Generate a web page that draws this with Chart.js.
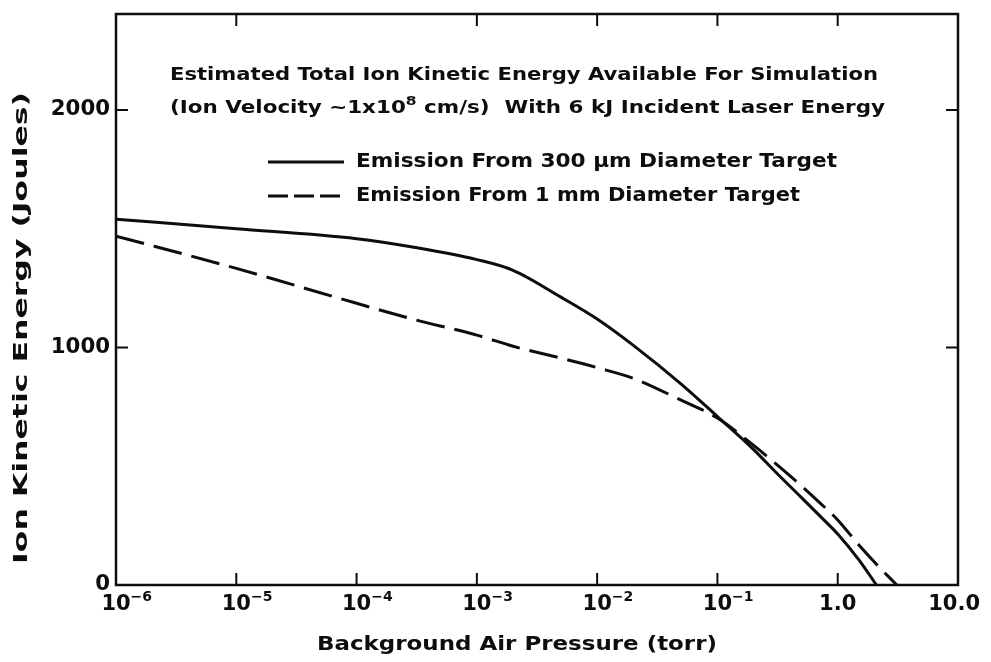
<!DOCTYPE html>
<html>
<head>
<meta charset="utf-8">
<script src="https://cdn.jsdelivr.net/npm/chart.js@4.4.0/dist/chart.umd.min.js"></script>
<style>
  html, body { margin: 0; padding: 0; background: #fff; }
</style>
</head>
<body>
<canvas id="ionChart" width="991" height="662"></canvas>
<script>
// ion kinetic energy (J) vs background air pressure (torr)
const pressure300 = [1e-6, 1e-5, 1e-4, 3e-4, 1e-3, 2e-3, 5e-3, 1e-2, 2e-2, 5e-2, 0.1, 0.2, 0.3, 0.5, 0.7, 1.0, 1.5, 2.1];
const energy300   = [1540, 1500, 1458, 1422, 1370, 1325, 1212, 1120, 1009, 846, 709, 570, 479, 368, 294, 215, 106, 0];

const pressure1mm = [1e-6, 1e-5, 1e-4, 3e-4, 1e-3, 2e-3, 5e-3, 1e-2, 2e-2, 5e-2, 0.1, 0.2, 0.3, 0.5, 0.7, 1.0, 1.5, 2.1, 3.1];
const energy1mm   = [1469, 1333, 1186, 1118, 1052, 1005, 955, 915, 870, 778, 703, 588, 514, 417, 349, 274, 168, 87, 0];

// axis ticks and their labels ([base, superscript])
const xTicks = [1e-6, 1e-5, 1e-4, 1e-3, 1e-2, 1e-1, 1, 10];
const xTickLabels = [['10', '\u22126'], ['10', '\u22125'], ['10', '\u22124'], ['10', '\u22123'],
                     ['10', '\u22122'], ['10', '\u22121'], ['1.0', ''], ['10.0', '']];
const xTopTicks = [1e-5, 1e-3, 1e-2, 1e-1, 1];
const yTicks = [0, 1000, 2000];
const yTickLabels = ['0', '1000', '2000'];

const FONT = '"DejaVu Sans", sans-serif';
const INK = '#0d0d0d';

// draw text squeezed/stretched to a given width
function fitText(ctx, text, x, y, w, size, align) {
  ctx.save();
  ctx.font = 'bold ' + size + 'px ' + FONT;
  const s = w / ctx.measureText(text).width;
  ctx.translate(x, y);
  ctx.scale(s, 1);
  ctx.textAlign = align;
  ctx.textBaseline = 'middle';
  ctx.fillText(text, 0, 0);
  ctx.restore();
}

// text made of normal and superscript runs, fitted to width w, starting at x
function drawRuns(ctx, runs, x, y, w, size) {
  const supSize = Math.round(size * 0.72);
  let total = 0;
  runs.forEach(r => {
    ctx.font = 'bold ' + (r.sup ? supSize : size) + 'px ' + FONT;
    r.w = ctx.measureText(r.t).width;
    total += r.w;
  });
  ctx.save();
  ctx.translate(x, y);
  ctx.scale(w / total, 1);
  ctx.textAlign = 'left';
  ctx.textBaseline = 'middle';
  let cx = 0;
  runs.forEach(r => {
    ctx.font = 'bold ' + (r.sup ? supSize : size) + 'px ' + FONT;
    ctx.fillText(r.t, cx, r.sup ? -size * 0.38 : 0);
    cx += r.w;
  });
  ctx.restore();
}

const framePlugin = {
  id: 'frame',
  afterDatasetsDraw(chart) {
    const ctx = chart.ctx;
    const a = chart.chartArea;
    const xs = chart.scales.x, ys = chart.scales.y;
    const tick = 12;
    ctx.save();
    ctx.strokeStyle = INK;
    ctx.fillStyle = INK;
    ctx.lineCap = 'butt';

    // box
    ctx.lineWidth = 2.5;
    ctx.strokeRect(a.left, a.top, a.right - a.left, a.bottom - a.top);

    // inward tick marks
    ctx.lineWidth = 2;
    ctx.beginPath();
    xTicks.forEach(v => {
      const px = xs.getPixelForValue(v);
      if (px <= a.left + 1 || px >= a.right - 1) return;
      ctx.moveTo(px, a.bottom); ctx.lineTo(px, a.bottom - tick);
    });
    xTopTicks.forEach(v => {
      const px = xs.getPixelForValue(v);
      ctx.moveTo(px, a.top); ctx.lineTo(px, a.top + tick);
    });
    yTicks.forEach(v => {
      if (v === 0) return;
      const py = ys.getPixelForValue(v);
      ctx.moveTo(a.left, py); ctx.lineTo(a.left + tick, py);
      ctx.moveTo(a.right, py); ctx.lineTo(a.right - tick, py);
    });
    ctx.stroke();

    // y tick labels
    yTickLabels.forEach((lab, i) => {
      const py = ys.getPixelForValue(yTicks[i]);
      fitText(ctx, lab, a.left - 6, py, lab.length * 14.8, 21, 'right');
    });

    // x tick labels
    xTickLabels.forEach((lab, i) => {
      let px = xs.getPixelForValue(xTicks[i]);
      ctx.textBaseline = 'middle';
      ctx.font = 'bold 21px ' + FONT;
      const bw = ctx.measureText(lab[0]).width;
      if (px + bw / 2 > 980) px = 980 - bw / 2;
      ctx.textAlign = 'center';
      ctx.fillText(lab[0], px, 605);
      if (lab[1]) {
        ctx.font = 'bold 14px ' + FONT;
        ctx.textAlign = 'left';
        ctx.fillText(lab[1], px + bw / 2, 597);
      }
    });

    // axis titles
    fitText(ctx, 'Background Air Pressure (torr)', 517, 645, 400, 20, 'center');
    ctx.save();
    ctx.translate(22, 328);
    ctx.rotate(-Math.PI / 2);
    fitText(ctx, 'Ion Kinetic Energy (Joules)', 0, 0, 472, 20, 'center');
    ctx.restore();

    // caption inside the plot
    fitText(ctx, 'Estimated Total Ion Kinetic Energy Available For Simulation', 170, 75, 708, 18, 'left');
    drawRuns(ctx, [
      { t: '(Ion Velocity ~1x10' },
      { t: '8', sup: true },
      { t: ' cm/s)  With 6 kJ Incident Laser Energy' }
    ], 170, 108, 715, 18);

    // legend
    const items = [
      { ds: chart.data.datasets[0], y: 162, textW: 481 },
      { ds: chart.data.datasets[1], y: 196, textW: 444 }
    ];
    items.forEach(it => {
      ctx.save();
      ctx.lineWidth = 3;
      ctx.setLineDash(it.ds.borderDash ? [20, 6] : []);
      ctx.beginPath();
      ctx.moveTo(268, it.y); ctx.lineTo(344, it.y);
      ctx.stroke();
      ctx.restore();
      fitText(ctx, it.ds.label, 356, it.y, it.textW, 19, 'left');
    });
    ctx.restore();
  }
};

new Chart(document.getElementById('ionChart'), {
  type: 'line',
  data: {
    datasets: [
      {
        label: 'Emission From 300 \u03BCm Diameter Target',
        data: pressure300.map((p, i) => ({ x: p, y: energy300[i] })),
        borderColor: INK,
        borderWidth: 3,
        pointRadius: 0,
        cubicInterpolationMode: 'monotone'
      },
      {
        label: 'Emission From 1 mm Diameter Target',
        data: pressure1mm.map((p, i) => ({ x: p, y: energy1mm[i] })),
        borderColor: INK,
        borderWidth: 3,
        borderDash: [29, 10],
        pointRadius: 0,
        cubicInterpolationMode: 'monotone'
      }
    ]
  },
  options: {
    responsive: false,
    animation: false,
    devicePixelRatio: 1,
    layout: { padding: { left: 116, right: 33, top: 14, bottom: 77 } },
    plugins: { legend: { display: false }, tooltip: { enabled: false } },
    scales: {
      x: { type: 'logarithmic', min: 1e-6, max: 10, display: false },
      y: { type: 'linear', min: 0, max: 2404, display: false }
    }
  },
  plugins: [framePlugin]
});
</script>
</body>
</html>
